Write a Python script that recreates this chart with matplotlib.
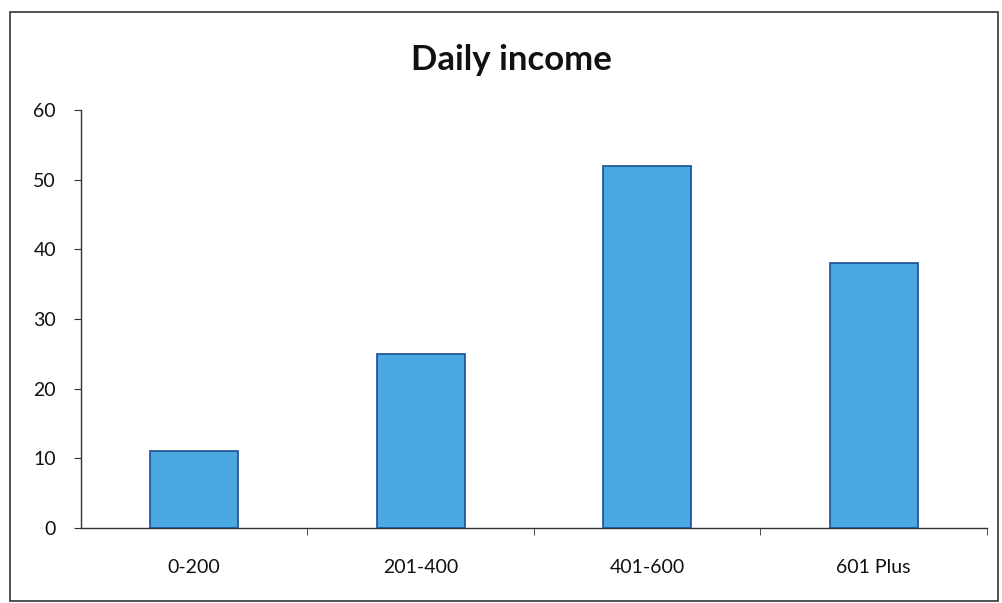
import matplotlib
matplotlib.use('Agg')
import matplotlib.pyplot as plt
from matplotlib.patches import Rectangle

# data
categories = ['0-200', '201-400', '401-600', '601 Plus']
values = [11, 25, 52, 38]
yticks = [0, 10, 20, 30, 40, 50, 60]

plt.rcParams['font.family'] = ['Lato', 'DejaVu Sans']

fig = plt.figure(figsize=(10.02, 6.03), dpi=100)
ax = fig.add_axes([0.0808, 0.1244, 0.9042, 0.6932])

x = list(range(len(categories)))
ax.bar(x, values, width=0.39, color='#4BA8E0', edgecolor='#1A4F93', linewidth=1.2, zorder=3)

ax.set_xlim(-0.5, len(categories) - 0.5)
ax.set_ylim(0, 60)
ax.set_yticks(yticks)
ax.set_xticks(x)
ax.set_xticklabels(categories)
ax.set_xticks([i + 0.5 for i in x], minor=True)

ax.tick_params(axis='x', which='major', length=0, pad=22, labelsize=14, colors='#111111')
ax.tick_params(axis='x', which='minor', length=5, direction='out', color='#333333')
ax.tick_params(axis='y', length=5, direction='out', pad=13, labelsize=14, color='#333333', labelcolor='#111111')

for s in ['top', 'right']:
    ax.spines[s].set_visible(False)
for s in ['left', 'bottom']:
    ax.spines[s].set_color('#333333')
    ax.spines[s].set_linewidth(1.0)

fig.text(0.51, 0.9, 'Daily income', ha='center', va='center', fontsize=25, fontweight='bold', color='#111111')

# chart border
fig.patches.append(Rectangle((10 / 1002, 2 / 603), 988 / 1002, 589 / 603, transform=fig.transFigure,
                             fill=False, edgecolor='#333333', linewidth=1.2))

fig.savefig('out.png', dpi=100)
